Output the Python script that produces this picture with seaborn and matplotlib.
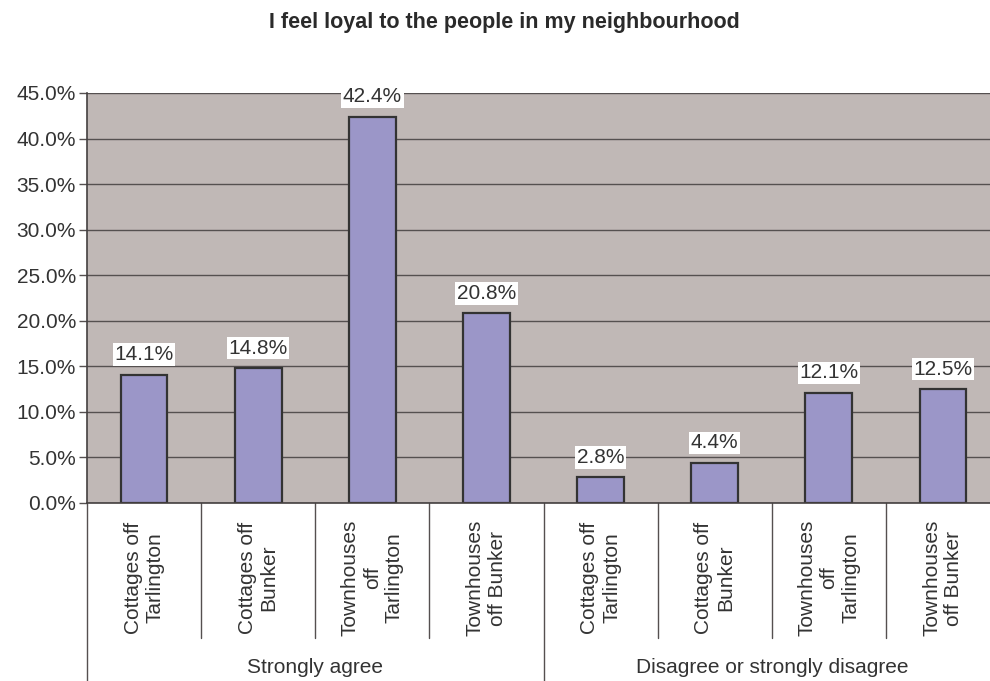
import numpy as np
import pandas as pd
import matplotlib
matplotlib.use("Agg")
import matplotlib.pyplot as plt
import seaborn as sns

# ── data ────────────────────────────────────
groups     = ["Strongly agree"] * 4 + ["Disagree or strongly disagree"] * 4
categories = ["Cottages off\nTarlington", "Cottages off\nBunker",
              "Townhouses\noff\nTarlington", "Townhouses\noff Bunker"] * 2
values     = [14.1, 14.8, 42.4, 20.8, 2.8, 4.4, 12.1, 12.5]
group_names = ["Strongly agree", "Disagree or strongly disagree"]
yticks     = [0, 5, 10, 15, 20, 25, 30, 35, 40, 45]

df = pd.DataFrame({"group": groups, "category": categories, "value": values})
df["key"] = [f"{g}|{c}" for g, c in zip(groups, categories)]

# ── style ───────────────────────────────────
sns.set_theme(style="white")
plt.rcParams["font.family"] = ["Liberation Sans", "DejaVu Sans"]

BG    = "#C0B8B6"
BAR   = "#9B96C8"
EDGE  = "#333333"
TEXT  = "#333333"
GRID  = "#555050"
FS    = 15

fig = plt.figure(figsize=(9.9, 6.81), dpi=100)
ax = fig.add_axes([87 / 990, 1 - 503 / 681, 913 / 990, 410 / 681])
ax.set_facecolor(BG)

sns.barplot(data=df, x="key", y="value", order=list(df["key"]), color=BAR,
            saturation=1, width=0.41, edgecolor=EDGE, linewidth=1.6, ax=ax)

ax.set_ylim(0, 45)
ax.set_xlim(-0.5, len(values) - 0.5)
ax.set_yticks(yticks)
ax.set_yticklabels([f"{t:.1f}%" for t in yticks], fontsize=FS, color=TEXT)
ax.yaxis.grid(True, color=GRID, linewidth=1)
ax.set_axisbelow(True)
ax.tick_params(axis="y", length=6, width=1, color=GRID, pad=2, left=True)
ax.set_xticks([])
ax.set_xlabel("")
ax.set_ylabel("")
for s in ["top", "right"]:
    ax.spines[s].set_visible(False)
ax.spines["left"].set_color("#444040")
ax.spines["left"].set_linewidth(1.2)
ax.spines["bottom"].set_color("#444040")
ax.spines["bottom"].set_linewidth(1.2)

# value labels
for i, v in enumerate(values):
    ax.annotate(f"{v:.1f}%", (i, v), xytext=(0, 7.5), textcoords="offset points",
                ha="center", va="bottom", fontsize=FS, color=TEXT,
                bbox=dict(boxstyle="square,pad=0.08", fc="white", ec="none"))

# category labels (two-level axis)
trans = ax.get_xaxis_transform()
for i, c in enumerate(categories):
    ax.text(i, -0.183, c, rotation=90, ha="center", va="center",
            multialignment="center", fontsize=FS, color=TEXT,
            transform=trans, linespacing=1.2)

for b in np.arange(-0.5, len(values), 1.0):
    outer = (b == -0.5) or (b == 3.5) or (b == len(values) - 0.5)
    y_end = -0.45 if outer else -0.329
    ax.plot([b, b], [0, y_end], color="#555050", lw=1, transform=trans, clip_on=False)

for gi, g in enumerate(group_names):
    ax.text(gi * 4 + 1.5, -0.402, g, ha="center", va="center", fontsize=FS,
            color=TEXT, transform=trans)

fig.text(504 / 990, 1 - 28 / 681, "I feel loyal to the people in my neighbourhood",
         ha="center", va="baseline", fontsize=15.5, fontweight="bold", color="#2a2a2a")

fig.savefig("out.png", dpi=100, facecolor="white")
